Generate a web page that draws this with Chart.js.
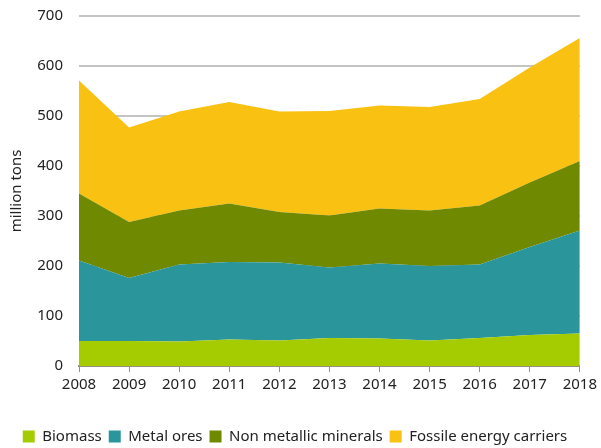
<!DOCTYPE html>
<html>
<head>
<meta charset="utf-8">
<script src="https://cdn.jsdelivr.net/npm/chart.js@4"></script>
<style>
  html, body { margin: 0; padding: 0; background: #fff; }
  #wrap { width: 601px; height: 448px; }
</style>
</head>
<body>
<div id="wrap"><canvas id="chart" width="601" height="448"></canvas></div>
<script>
const years = ['2008', '2009', '2010', '2011', '2012', '2013', '2014', '2015', '2016', '2017', '2018'];
const biomass = [50, 50, 49, 53, 51, 56, 55, 51, 56, 62, 65];
const metalOres = [161, 126, 154, 155, 156, 141, 150, 149, 147, 176, 206];
const nonMetallic = [134, 112, 108, 117, 101, 104, 110, 111, 118, 129, 139];
const fossil = [226, 189, 198, 203, 201, 209, 206, 207, 213, 230, 246];
const yTicks = [0, 100, 200, 300, 400, 500, 600, 700];

const font = "'Noto Sans', sans-serif";

function area(label, data, color, fill) {
  return {
    label,
    data,
    backgroundColor: color,
    borderColor: color,
    borderWidth: 0,
    pointRadius: 0,
    fill,
    tension: 0
  };
}

// nudge the legend down a little, closer to the bottom edge
const legendShift = {
  id: 'legendShift',
  afterLayout(chart) {
    chart.legend.top += 6;
    chart.legend.bottom += 6;
  }
};

new Chart(document.getElementById('chart'), {
  type: 'line',
  data: {
    labels: years,
    datasets: [
      area('Biomass', biomass, '#a5cc00', 'origin'),
      area('Metal ores', metalOres, '#2a959b', '-1'),
      area('Non metallic minerals', nonMetallic, '#6f8a00', '-1'),
      area('Fossile energy carriers', fossil, '#f9c111', '-1')
    ]
  },
  plugins: [legendShift],
  options: {
    responsive: false,
    animation: false,
    layout: { padding: { top: 16, right: 19, left: 8, bottom: 0 } },
    plugins: {
      legend: {
        position: 'bottom',
        labels: {
          font: { family: font, size: 15 },
          color: '#222',
          boxWidth: 12,
          boxHeight: 12,
          padding: 7
        }
      },
      tooltip: { enabled: false }
    },
    scales: {
      x: {
        stacked: true,
        offset: false,
        grid: { drawOnChartArea: false, drawTicks: true, tickLength: 6, color: '#9c8f80' },
        border: { color: '#9c8f80', width: 2 },
        ticks: { font: { family: font, size: 15 }, color: '#222', maxRotation: 0, padding: 4 },
        afterFit: s => { s.height = 50; }
      },
      y: {
        stacked: true,
        min: 0,
        max: 700,
        afterBuildTicks: s => { s.ticks = yTicks.map(v => ({ value: v })); },
        grid: { color: '#c4c4c4', lineWidth: 2, drawTicks: false },
        border: { display: false },
        ticks: { font: { family: font, size: 15 }, color: '#222', padding: 16 },
        title: { display: true, text: 'million tons', font: { family: font, size: 15 }, color: '#222', padding: 0 },
        afterFit: s => { s.width = 71; s.paddingTop = 0; }
      }
    }
  }
});
</script>
</body>
</html>
